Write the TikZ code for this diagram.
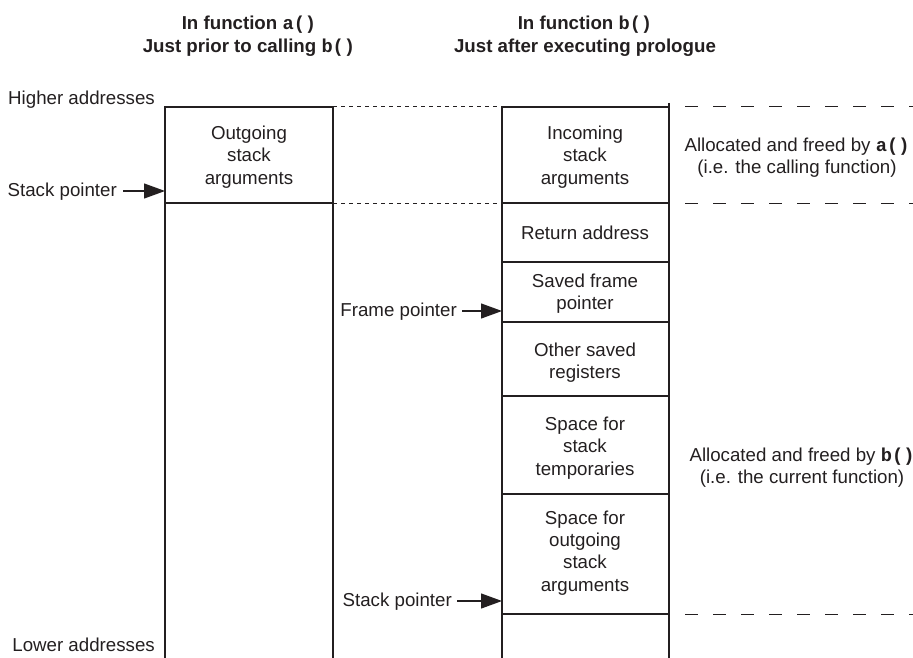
\documentclass[tikz,border=0pt]{standalone}
\usepackage{fontspec}
\setmainfont{Liberation Sans}
\newfontfamily\monofnt{Liberation Mono}
\usetikzlibrary{arrows.meta}
\definecolor{ink}{HTML}{231F20}
\newcommand{\fncode}[1]{{\monofnt\bfseries #1}}
\tikzset{
  txt/.style={text=ink, font=\fontsize{18.7}{22.2}\selectfont, inner sep=0pt, align=center},
  hdr/.style={txt, font=\fontsize{18.7}{22.5}\selectfont\bfseries},
  wall/.style={draw=ink, line width=1.2pt},
  shortdash/.style={draw=ink, line width=1pt, dash pattern=on 4pt off 4pt},
  longdash/.style={draw=ink, line width=1pt, dash pattern=on 13pt off 15pt},
  ptr/.style={draw=ink, line width=1.2pt, -{Triangle[length=21pt,width=15pt]}}
}
\begin{document}
\begin{tikzpicture}[x=1pt,y=-1pt]
\useasboundingbox (0,0) rectangle (913,658);

% headers
\node[hdr] (hdrA) at (249,36) {In function \fncode{a()}\\Just prior to calling \fncode{b()}};
\node[hdr] (hdrB) at (585,36) {In function \fncode{b()}\\Just after executing prologue};

% column a
\coordinate (aTL) at (165,107);
\coordinate (aTR) at (333,107);
\coordinate (aML) at (165,203);
\coordinate (aMR) at (333,203);
\coordinate (aBL) at (165,658);
\coordinate (aBR) at (333,658);
\draw[wall] (aBL) -- (aTL) -- (aTR) -- (aBR);
\draw[wall] (aML) -- (aMR);

% column b
\coordinate (bTL) at (502,107);
\coordinate (bTR) at (669,107);
\coordinate (bTop) at (669,103);
\coordinate (bBL) at (502,658);
\coordinate (bBR) at (669,658);
\draw[wall] (bBL) -- (bTL) -- (bTR);
\draw[wall] (bTop) -- (bBR);
\foreach \yy/\nm in {203/r1,262/r2,322/r3,396/r4,494/r5,614/r6}{
  \coordinate (\nm L) at (502,\yy);
  \coordinate (\nm R) at (669,\yy);
  \draw[wall] (\nm L) -- (\nm R);
}

% dashed links between columns
\draw[shortdash] (aTR) -- (bTL);
\draw[shortdash] (aMR) -- (r1L);

% dashed lines on the right
\coordinate (d1a) at (685,107); \coordinate (d1b) at (913,107);
\coordinate (d2a) at (685,203); \coordinate (d2b) at (913,203);
\coordinate (d3a) at (685,614); \coordinate (d3b) at (913,614);
\draw[longdash] (d1a) -- (d1b);
\draw[longdash] (d2a) -- (d2b);
\draw[longdash] (d3a) -- (d3b);

% box texts
\node[txt] (outA) at (249,157) {Outgoing\\stack\\arguments};
\node[txt] (inB) at (585,157) {Incoming\\stack\\arguments};
\node[txt] (ret) at (585,233) {Return address};
\node[txt] (sfp) at (585,294) {Saved frame\\pointer};
\node[txt] (osr) at (585,363) {Other saved\\registers};
\node[txt] (tmp) at (585,448) {Space for\\stack\\temporaries};
\node[txt] (oga) at (585,553) {Space for\\outgoing\\stack\\arguments};

% side notes
\node[txt] (allocA) at (797,158) {Allocated and freed by \fncode{a()}\\(i.e. the calling function)};
\node[txt] (allocB) at (802,468) {Allocated and freed by \fncode{b()}\\(i.e. the current function)};

% address labels
\node[txt, anchor=east] (hi) at (155,100) {Higher addresses};
\node[txt, anchor=east] (lo) at (155,645) {Lower addresses};

% pointers
\node[txt, anchor=east] (spA) at (117,192) {Stack pointer};
\coordinate (spAt) at (165,191);
\draw[ptr] ([xshift=6pt]spA.east |- spAt) -- (spAt);

\node[txt, anchor=east] (fpB) at (457,312) {Frame pointer};
\coordinate (fpBt) at (502,311);
\draw[ptr] ([xshift=5pt]fpB.east |- fpBt) -- (fpBt);

\node[txt, anchor=east] (spB) at (452,602) {Stack pointer};
\coordinate (spBt) at (502,601);
\draw[ptr] ([xshift=5pt]spB.east |- spBt) -- (spBt);
\end{tikzpicture}
\end{document}
